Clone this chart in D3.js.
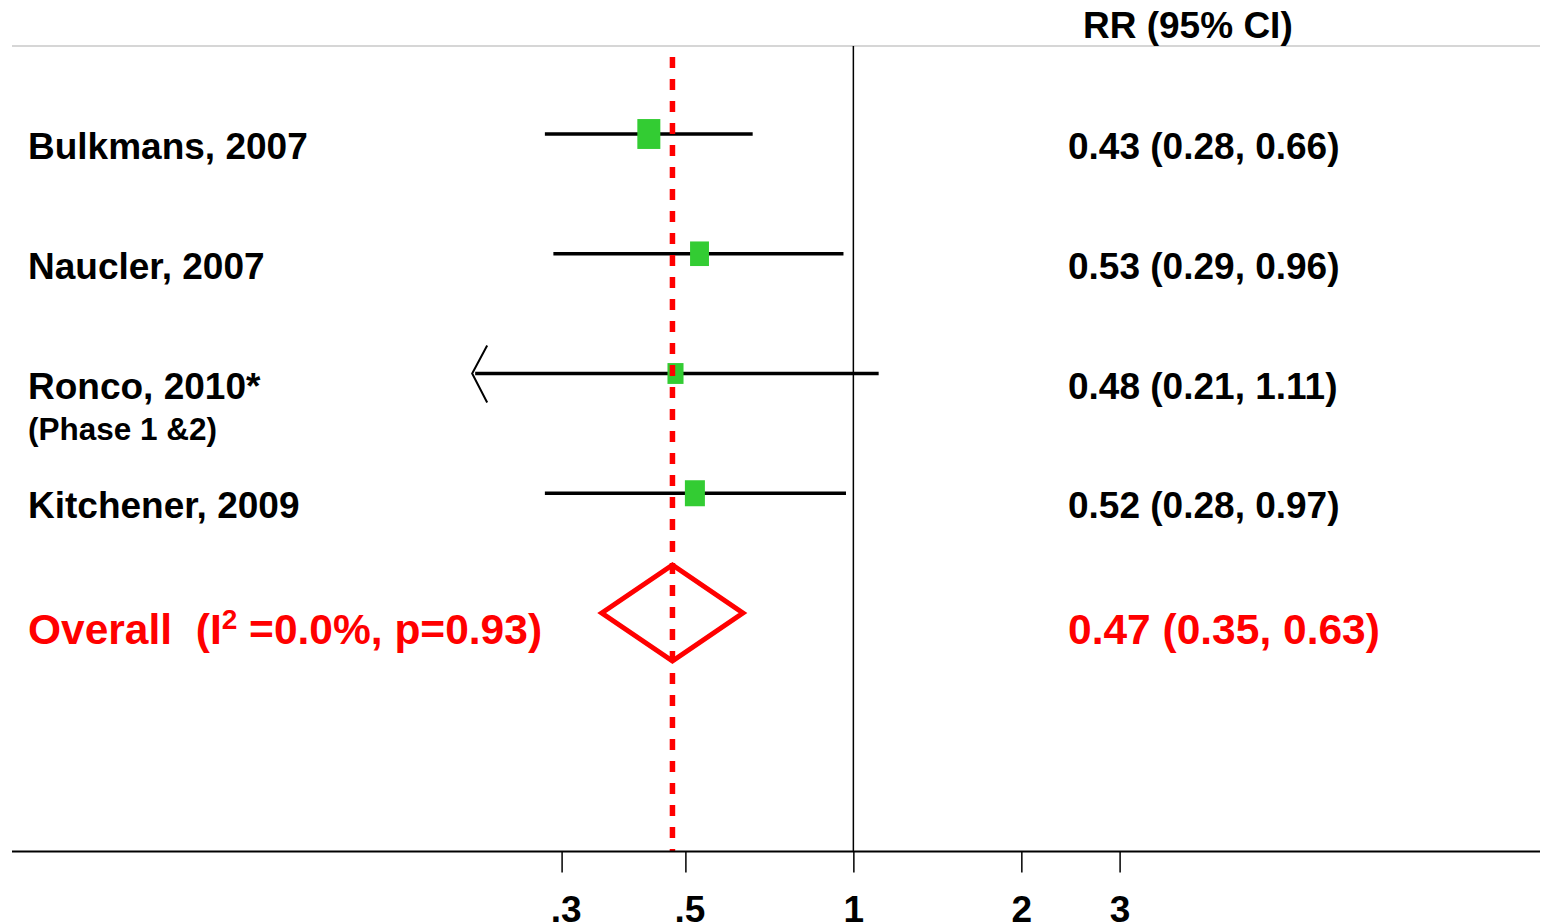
<!DOCTYPE html>
<html lang="en">
<head>
    <meta charset="UTF-8">
    <title>Forest plot</title>
    <script src="https://d3js.org/d3.v7.min.js"></script>
    <style>
        body { margin: 0; background: #fff; }
        svg text { font-family: "Liberation Sans", Arial, sans-serif; font-weight: bold; white-space: pre; }
        .axis .domain { display: none; }
    </style>
</head>
<body>
    <svg id="forest" width="1546" height="924"></svg>
    <script>
        // study rows
        const studies = ["Bulkmans, 2007", "Naucler, 2007", "Ronco, 2010*", "Kitchener, 2009"];
        const notes = ["", "", "(Phase 1 &2)", ""];
        const estimates = [0.43, 0.53, 0.48, 0.52];
        const lowers = [0.28, 0.29, 0.21, 0.28];
        const uppers = [0.66, 0.96, 1.11, 0.97];
        const weights = [37, 25, 18, 28];

        // pooled result
        const pooled = {est: 0.474, lo: 0.354, hi: 0.634};
        const pooledLabel = ["Overall  (I", "2", " =0.0%, p=0.93)"];

        const tickValues = [0.3, 0.5, 1, 2, 3];
        const tickLabels = [".3", ".5", "1", "2", "3"];
        const clipMin = 0.21; // lower limits at/under this get an arrow

        const svg = d3.select("#forest");
        const fmt = d3.format(".2f");

        const x = d3.scaleLog().domain([0.3, 3]).range([561.6, 1119.6]);
        const rows = d3.scalePoint().domain(d3.range(studies.length + 1)).range([134, 613]);
        const boxW = d3.scaleSqrt().domain([0, d3.max(weights)]).range([0, 23]);

        const yTop = 46, yBottom = 851.5;

        // frame lines
        svg.append("line")
            .attr("x1", 12).attr("x2", 1540).attr("y1", yTop).attr("y2", yTop)
            .attr("stroke", "#c8c8c8").attr("stroke-width", 1.5);
        svg.append("line")
            .attr("x1", x(1)).attr("x2", x(1)).attr("y1", yTop).attr("y2", yBottom)
            .attr("stroke", "#000").attr("stroke-width", 1.5);

        svg.append("text")
            .attr("x", 1083).attr("y", 38)
            .style("font-size", "37px")
            .text("RR (95% CI)");

        const data = studies.map((name, i) => ({
            name, note: notes[i], est: estimates[i], lo: lowers[i], hi: uppers[i], w: weights[i], row: i
        }));

        // CI lines
        svg.selectAll(".ci")
            .data(data)
            .enter()
            .append("line")
            .attr("class", "ci")
            .attr("x1", d => x(d.lo)).attr("x2", d => x(d.hi))
            .attr("y1", d => rows(d.row)).attr("y2", d => rows(d.row))
            .attr("stroke", "#000").attr("stroke-width", 3.5);

        // arrow for clipped lower limits
        svg.selectAll(".arrow")
            .data(data.filter(d => d.lo <= clipMin))
            .enter()
            .append("path")
            .attr("class", "arrow")
            .attr("d", d => {
                const ax = x(d.lo) - 3, ay = rows(d.row);
                return `M${ax + 15},${ay - 28} L${ax},${ay} L${ax + 15},${ay + 29}`;
            })
            .attr("fill", "none").attr("stroke", "#000").attr("stroke-width", 2);

        // weight boxes
        svg.selectAll(".box")
            .data(data)
            .enter()
            .append("rect")
            .attr("class", "box")
            .attr("x", d => x(d.est) - boxW(d.w) / 2)
            .attr("y", d => rows(d.row) - boxW(d.w) * 1.3 / 2)
            .attr("width", d => boxW(d.w))
            .attr("height", d => boxW(d.w) * 1.3)
            .attr("fill", "#33cc33");

        // study labels
        svg.selectAll(".name")
            .data(data)
            .enter()
            .append("text")
            .attr("class", "name")
            .attr("x", 28).attr("y", d => rows(d.row) + 25)
            .style("font-size", "37px")
            .text(d => d.name);

        svg.selectAll(".note")
            .data(data.filter(d => d.note))
            .enter()
            .append("text")
            .attr("class", "note")
            .attr("x", 28).attr("y", d => rows(d.row) + 66)
            .style("font-size", "31.5px")
            .text(d => d.note);

        svg.selectAll(".rr")
            .data(data)
            .enter()
            .append("text")
            .attr("class", "rr")
            .attr("x", 1068).attr("y", d => rows(d.row) + 25)
            .style("font-size", "37px")
            .text(d => `${fmt(d.est)} (${fmt(d.lo)}, ${fmt(d.hi)})`);

        // pooled diamond
        const py = rows(studies.length);
        svg.append("path")
            .attr("d", `M${x(pooled.lo)},${py} L${x(pooled.est)},${py - 48} L${x(pooled.hi)},${py} L${x(pooled.est)},${py + 48} Z`)
            .attr("fill", "none").attr("stroke", "#ff0000").attr("stroke-width", 5);

        const ol = svg.append("text")
            .attr("x", 28).attr("y", py + 31)
            .style("font-size", "42.5px")
            .attr("fill", "#ff0000");
        ol.append("tspan").text(pooledLabel[0]);
        ol.append("tspan").attr("dy", -15).style("font-size", "28px").text(pooledLabel[1]);
        ol.append("tspan").attr("dy", 15).text(pooledLabel[2]);

        svg.append("text")
            .attr("x", 1068).attr("y", py + 31)
            .style("font-size", "42.5px")
            .attr("fill", "#ff0000")
            .text(`${fmt(pooled.est)} (${fmt(pooled.lo)}, ${fmt(pooled.hi)})`);

        // pooled estimate reference line
        svg.append("line")
            .attr("x1", x(pooled.est)).attr("x2", x(pooled.est))
            .attr("y1", yTop).attr("y2", yBottom)
            .attr("stroke", "#ff0000").attr("stroke-width", 5.5)
            .attr("stroke-dasharray", "11,11").attr("stroke-dashoffset", 11);

        // x axis
        svg.append("line")
            .attr("x1", 12).attr("x2", 1540).attr("y1", yBottom).attr("y2", yBottom)
            .attr("stroke", "#000").attr("stroke-width", 2);

        const axis = svg.append("g")
            .attr("class", "axis")
            .attr("transform", `translate(0,${yBottom})`)
            .call(d3.axisBottom(x)
                .tickValues(tickValues)
                .tickFormat((d, i) => tickLabels[i])
                .tickSize(21)
                .tickPadding(23));
        axis.selectAll(".tick line").attr("stroke", "#000").attr("stroke-width", 1.5);
        axis.selectAll(".tick text")
            .style("font-size", "37px")
            .attr("dx", (d, i) => tickLabels[i].startsWith(".") ? 4 : 0)
            .attr("fill", "#000");
    </script>
</body>
</html>
